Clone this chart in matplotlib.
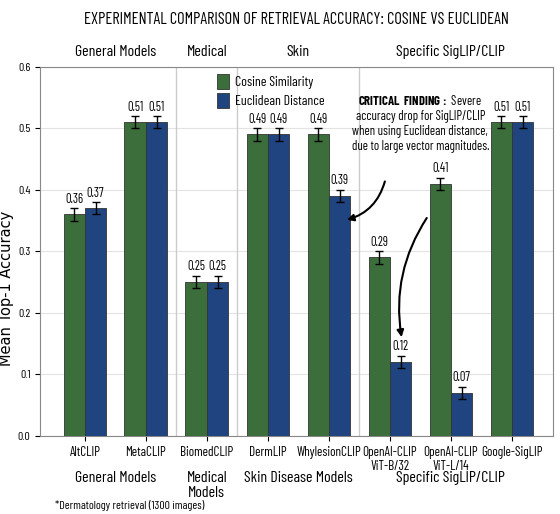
import matplotlib
matplotlib.use("Agg")
from matplotlib import pyplot as plt
import numpy as np

cond = ['Barlow Condensed', 'Fira Sans Extra Condensed', 'DejaVu Sans']
plt.rcParams['font.family'] = cond
plt.rcParams['mathtext.fontset'] = 'custom'
plt.rcParams['mathtext.bf'] = 'Barlow Condensed:bold'
plt.rcParams['mathtext.rm'] = 'Barlow Condensed'

models = ["AltCLIP", "MetaCLIP", "BiomedCLIP", "DermLIP", "WhylesionCLIP",
          "OpenAI-CLIP\nViT-B/32", "OpenAI-CLIP\nViT-L/14", "Google-SigLIP"]
cosine = [0.36, 0.51, 0.25, 0.49, 0.49, 0.29, 0.41, 0.51]
euclid = [0.37, 0.51, 0.25, 0.49, 0.39, 0.12, 0.07, 0.51]
cos_err = [0.01] * 8
euc_err = [0.01] * 8
top_groups = ["General Models", "Medical", "Skin", "Specific SigLIP/CLIP"]
bottom_groups = ["General Models", "Medical\nModels", "Skin Disease Models", "Specific SigLIP/CLIP"]
group_centers = [0.5, 2, 3.5, 6]
separators = [1.5, 2.5, 4.5]

green = "#3b6e3a"
blue = "#1f4480"

fig = plt.figure(figsize=(5.6, 5.14), dpi=100)
ax = fig.add_axes([0.072, 0.152, 0.915, 0.718])

x = np.arange(len(models))
w = 0.35
ax.bar(x - w / 2, cosine, w, yerr=cos_err, capsize=3, color=green,
       edgecolor="#333333", linewidth=0.6, label="Cosine Similarity",
       error_kw=dict(elinewidth=1, ecolor="black"), zorder=3)
ax.bar(x + w / 2, euclid, w, yerr=euc_err, capsize=3, color=blue,
       edgecolor="#333333", linewidth=0.6, label="Euclidean Distance",
       error_kw=dict(elinewidth=1, ecolor="black"), zorder=3)

for xi, v, e in zip(x - w / 2, cosine, cos_err):
    ax.text(xi, v + e + 0.004, f"{v:.2f}", ha="center", va="bottom", fontsize=9)
for xi, v, e in zip(x + w / 2, euclid, euc_err):
    ax.text(xi, v + e + 0.004, f"{v:.2f}", ha="center", va="bottom", fontsize=9)

for s in separators:
    ax.axvline(s, color="#cccccc", linewidth=1, zorder=1)

ax.set_xlim(-0.73, 7.67)
ax.set_ylim(0, 0.6)
ax.set_xticks(x)
ax.set_xticklabels(models, fontsize=9.5, linespacing=1.1)
ax.set_yticks(np.arange(0, 0.61, 0.1))
ax.set_yticklabels([f"{v:.1f}" for v in np.arange(0, 0.61, 0.1)], fontsize=8.5)
ax.yaxis.grid(True, color="#e3e3e3", linewidth=0.8, zorder=0)
ax.set_axisbelow(True)
ax.set_ylabel("Mean Top-1 Accuracy", fontsize=10.5, family=["DejaVu Sans"])
ax.yaxis.set_label_coords(-0.052, 0.40)
for sp in ax.spines.values():
    sp.set_color("#888888")

ax.set_title("EXPERIMENTAL COMPARISON OF RETRIEVAL ACCURACY: COSINE VS EUCLIDEAN",
             fontsize=11.8, pad=31)

for c, t in zip(group_centers, top_groups):
    ax.text(c, 1.02, t, transform=ax.get_xaxis_transform(), ha="center",
            va="bottom", fontsize=11.5)
for c, t in zip(group_centers, bottom_groups):
    ax.text(c, -0.095, t, transform=ax.get_xaxis_transform(), ha="center",
            va="top", fontsize=11.5, linespacing=1.1)

fig.text(0.098, 0.005, "*Dermatology retrieval (1300 images)", fontsize=8.5, va="bottom")

ax.legend(loc="upper left", bbox_to_anchor=(0.32, 1.015), frameon=False,
          fontsize=10, handlelength=0.9, handleheight=1.3, labelspacing=0.3,
          handletextpad=0.4)

ax.text(5.5, 0.555, r"$\bf{CRITICAL\ FINDING:}$ Severe" + "\naccuracy drop for SigLIP/CLIP\n"
        "when using Euclidean distance,\ndue to large vector magnitudes.",
        ha="center", va="top", fontsize=9.2, linespacing=1.2, zorder=5)

ax.annotate("", xy=(4.25, 0.35), xytext=(4.93, 0.418),
            arrowprops=dict(arrowstyle="-|>", color="black", lw=1.5,
                            connectionstyle="arc3,rad=-0.3"), zorder=5)
ax.annotate("", xy=(5.2, 0.156), xytext=(5.63, 0.358),
            arrowprops=dict(arrowstyle="-|>", color="black", lw=1.5,
                            connectionstyle="arc3,rad=0.2"), zorder=5)

fig.savefig("out.png", dpi=100)
